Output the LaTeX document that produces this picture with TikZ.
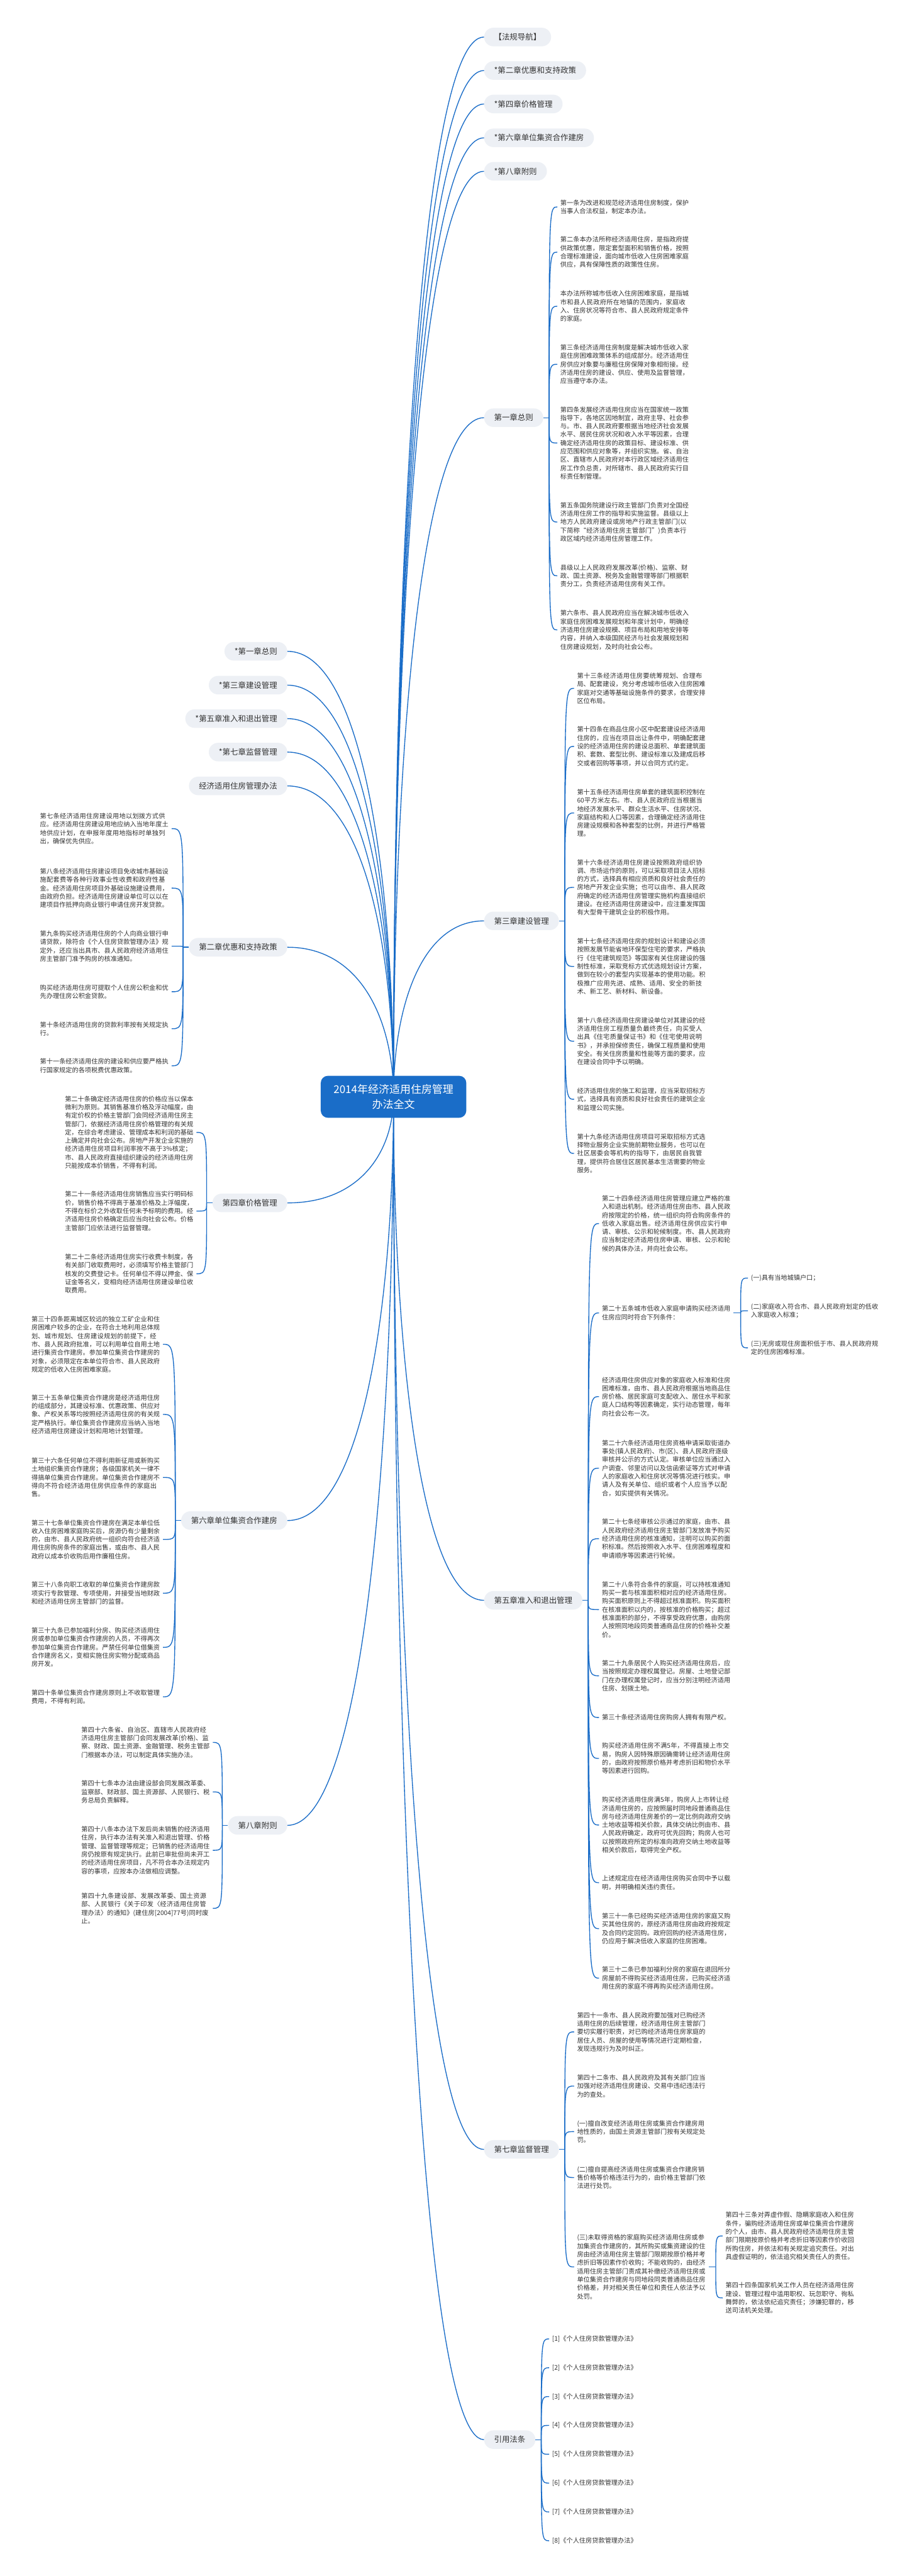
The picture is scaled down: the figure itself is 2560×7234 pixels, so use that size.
\documentclass[tikz,border=0pt]{standalone}
\usepackage{fontspec}
\setmainfont{Noto Sans CJK SC}
\XeTeXlinebreaklocale "zh"
\XeTeXlinebreakskip=0pt plus 1pt
\usetikzlibrary{calc}
\definecolor{cblue}{HTML}{1A6DC8}
\definecolor{pillc}{HTML}{EDF0F5}
\definecolor{txt}{HTML}{333333}
\tikzset{
  conn/.style={draw=cblue, line width=1.2pt},
  pill/.style={fill=pillc, rounded corners=13pt, minimum height=26pt, inner xsep=14pt, inner ysep=0pt, font=\fontsize{11}{13}\selectfont, text=txt},
  para/.style={font=\fontsize{9}{11.75}\selectfont, text width=180.5pt, align=left, inner xsep=4pt, inner ysep=2pt, text=txt, anchor=west},
  reft/.style={font=\fontsize{9}{11}\selectfont, inner xsep=4pt, text=txt, anchor=west},
  hubnode/.style={fill=cblue, text=white, rounded corners=10pt, font=\fontsize{15}{21}\selectfont, inner xsep=18pt, inner ysep=12pt, align=center}
}
\newcommand\mc[2]{\draw[conn] (#1) .. controls ($(#1)!0.5!(#1|-#2)$) and ($(#1|-#2)!0.3!(#2)$) .. (#2);}
\newcommand\bk[2]{\draw[conn] (#1) .. controls (#1|-#2) .. (#2);}
\begin{document}
\begin{tikzpicture}[x=0.5pt,y=-0.5pt]
\fill[white] (0,0) rectangle (2560,7234);
\useasboundingbox (0,0) rectangle (2560,7234);
\coordinate (c0) at (1105,3080);
% ---------- right top labels
\node[pill,anchor=west] (r0) at (1359,104) {【法规导航】};
\node[pill,anchor=west] (r1) at (1359,198) {*第二章优惠和支持政策};
\node[pill,anchor=west] (r2) at (1359,292) {*第四章价格管理};
\node[pill,anchor=west] (r3) at (1359,387) {*第六章单位集资合作建房};
\node[pill,anchor=west] (r4) at (1359,481) {*第八章附则};
\node[pill,anchor=west] (R1) at (1359,1173) {第一章总则};
\node[pill,anchor=west] (R3) at (1359,2586) {第三章建设管理};
\node[pill,anchor=west] (R5) at (1359,4494) {第五章准入和退出管理};
\node[pill,anchor=west] (R7) at (1359,6036) {第七章监督管理};
\node[pill,anchor=west] (RY) at (1359,6851) {引用法条};
% ---------- left labels
\node[pill,anchor=east] (l1) at (807,1829) {*第一章总则};
\node[pill,anchor=east] (l2) at (807,1924) {*第三章建设管理};
\node[pill,anchor=east] (l3) at (807,2018) {*第五章准入和退出管理};
\node[pill,anchor=east] (l4) at (807,2112) {*第七章监督管理};
\node[pill,anchor=east] (l5) at (807,2207) {经济适用住房管理办法};
\node[pill,anchor=east] (L2) at (807,2660) {第二章优惠和支持政策};
\node[pill,anchor=east] (L4) at (807,3378) {第四章价格管理};
\node[pill,anchor=east] (L6) at (807,4270) {第六章单位集资合作建房};
\node[pill,anchor=east] (L8) at (807,5126) {第八章附则};
% ---------- main connectors
\foreach \n in {r0,r1,r2,r3,r4,R1,R3,R5,R7,RY}{\mc{c0}{\n.west}}
\foreach \n in {l1,l2,l3,l4,l5,L2,L4,L6,L8}{\mc{c0}{\n.east}}
% ---------- chapter 1
\node[para] (a1) at (1565,581) {第一条为改进和规范经济适用住房制度，保护当事人合法权益，制定本办法。};
\node[para] (a2) at (1565,708) {第二条本办法所称经济适用住房，是指政府提供政策优惠，限定套型面积和销售价格，按照合理标准建设，面向城市低收入住房困难家庭供应，具有保障性质的政策性住房。};
\node[para] (a3) at (1565,860) {本办法所称城市低收入住房困难家庭，是指城市和县人民政府所在地镇的范围内，家庭收入、住房状况等符合市、县人民政府规定条件的家庭。};
\node[para] (a4) at (1565,1023) {第三条经济适用住房制度是解决城市低收入家庭住房困难政策体系的组成部分。经济适用住房供应对象要与廉租住房保障对象相衔接。经济适用住房的建设、供应、使用及监督管理，应当遵守本办法。};
\node[para] (a5) at (1565,1244) {第四条发展经济适用住房应当在国家统一政策指导下，各地区因地制宜，政府主导、社会参与。市、县人民政府要根据当地经济社会发展水平、居民住房状况和收入水平等因素，合理确定经济适用住房的政策目标、建设标准、供应范围和供应对象等，并组织实施。省、自治区、直辖市人民政府对本行政区域经济适用住房工作负总责，对所辖市、县人民政府实行目标责任制管理。};
\node[para] (a6) at (1565,1466) {第五条国务院建设行政主管部门负责对全国经济适用住房工作的指导和实施监督。县级以上地方人民政府建设或房地产行政主管部门(以下简称“经济适用住房主管部门”)负责本行政区域内经济适用住房管理工作。};
\node[para] (a7) at (1565,1617) {县级以上人民政府发展改革(价格)、监察、财政、国土资源、税务及金融管理等部门根据职责分工，负责经济适用住房有关工作。};
\node[para] (a8) at (1565,1769) {第六条市、县人民政府应当在解决城市低收入家庭住房困难发展规划和年度计划中，明确经济适用住房建设规模、项目布局和用地安排等内容，并纳入本级国民经济与社会发展规划和住房建设规划，及时向社会公布。};
\coordinate (bR1) at ([xshift=8pt]R1.east);
\draw[conn] (R1.east) -- (bR1);
\foreach \n in {a1,a2,a3,a4,a5,a6,a7,a8}{\bk{bR1}{\n.west}}
% ---------- chapter 3
\node[para] (b1) at (1612,1933) {第十三条经济适用住房要统筹规划、合理布局、配套建设，充分考虑城市低收入住房困难家庭对交通等基础设施条件的要求，合理安排区位布局。};
\node[para] (b2) at (1612,2096) {第十四条在商品住房小区中配套建设经济适用住房的，应当在项目出让条件中，明确配套建设的经济适用住房的建设总面积、单套建筑面积、套数、套型比例、建设标准以及建成后移交或者回购等事项，并以合同方式约定。};
\node[para] (b3) at (1612,2283) {第十五条经济适用住房单套的建筑面积控制在60平方米左右。市、县人民政府应当根据当地经济发展水平、群众生活水平、住房状况、家庭结构和人口等因素，合理确定经济适用住房建设规模和各种套型的比例，并进行严格管理。};
\node[para] (b4) at (1612,2492) {第十六条经济适用住房建设按照政府组织协调、市场运作的原则，可以采取项目法人招标的方式，选择具有相应资质和良好社会责任的房地产开发企业实施；也可以由市、县人民政府确定的经济适用住房管理实施机构直接组织建设。在经济适用住房建设中，应注重发挥国有大型骨干建筑企业的积极作用。};
\node[para] (b5) at (1612,2714) {第十七条经济适用住房的规划设计和建设必须按照发展节能省地环保型住宅的要求，严格执行《住宅建筑规范》等国家有关住房建设的强制性标准，采取竞标方式优选规划设计方案，做到在较小的套型内实现基本的使用功能。积极推广应用先进、成熟、适用、安全的新技术、新工艺、新材料、新设备。};
\node[para] (b6) at (1612,2924) {第十八条经济适用住房建设单位对其建设的经济适用住房工程质量负最终责任，向买受人出具《住宅质量保证书》和《住宅使用说明书》，并承担保修责任，确保工程质量和使用安全。有关住房质量和性能等方面的要求，应在建设合同中予以明确。};
\node[para] (b7) at (1612,3087) {经济适用住房的施工和监理，应当采取招标方式，选择具有资质和良好社会责任的建筑企业和监理公司实施。};
\node[para] (b8) at (1612,3239) {第十九条经济适用住房项目可采取招标方式选择物业服务企业实施前期物业服务，也可以在社区居委会等机构的指导下，由居民自我管理，提供符合居住区居民基本生活需要的物业服务。};
\coordinate (bR3) at ([xshift=8pt]R3.east);
\draw[conn] (R3.east) -- (bR3);
\foreach \n in {b1,b2,b3,b4,b5,b6,b7,b8}{\bk{bR3}{\n.west}}
% ---------- chapter 5
\node[para] (c1) at (1682,3436) {第二十四条经济适用住房管理应建立严格的准入和退出机制。经济适用住房由市、县人民政府按限定的价格，统一组织向符合购房条件的低收入家庭出售。经济适用住房供应实行申请、审核、公示和轮候制度。市、县人民政府应当制定经济适用住房申请、审核、公示和轮候的具体办法，并向社会公布。};
\node[para] (c2) at (1682,3687) {第二十五条城市低收入家庭申请购买经济适用住房应同时符合下列条件：};
\node[para] (c3) at (1682,3922) {经济适用住房供应对象的家庭收入标准和住房困难标准，由市、县人民政府根据当地商品住房价格、居民家庭可支配收入、居住水平和家庭人口结构等因素确定，实行动态管理，每年向社会公布一次。};
\node[para] (c4) at (1682,4123) {第二十六条经济适用住房资格申请采取街道办事处(镇人民政府)、市(区)、县人民政府逐级审核并公示的方式认定。审核单位应当通过入户调查、邻里访问以及信函索证等方式对申请人的家庭收入和住房状况等情况进行核实。申请人及有关单位、组织或者个人应当予以配合，如实提供有关情况。};
\node[para] (c5) at (1682,4321) {第二十七条经审核公示通过的家庭，由市、县人民政府经济适用住房主管部门发放准予购买经济适用住房的核准通知，注明可以购买的面积标准。然后按照收入水平、住房困难程度和申请顺序等因素进行轮候。};
\node[para] (c6) at (1682,4520) {第二十八条符合条件的家庭，可以持核准通知购买一套与核准面积相对应的经济适用住房。购买面积原则上不得超过核准面积。购买面积在核准面积以内的，按核准的价格购买；超过核准面积的部分，不得享受政府优惠，由购房人按照同地段同类普通商品住房的价格补交差价。};
\node[para] (c7) at (1682,4706) {第二十九条居民个人购买经济适用住房后，应当按照规定办理权属登记。房屋、土地登记部门在办理权属登记时，应当分别注明经济适用住房、划拨土地。};
\node[para] (c8) at (1682,4823) {第三十条经济适用住房购房人拥有有限产权。};
\node[para] (c9) at (1682,4938) {购买经济适用住房不满5年，不得直接上市交易，购房人因特殊原因确需转让经济适用住房的，由政府按照原价格并考虑折旧和物价水平等因素进行回购。};
\node[para] (c10) at (1682,5125) {购买经济适用住房满5年，购房人上市转让经济适用住房的，应按照届时同地段普通商品住房与经济适用住房差价的一定比例向政府交纳土地收益等相关价款，具体交纳比例由市、县人民政府确定，政府可优先回购；购房人也可以按照政府所定的标准向政府交纳土地收益等相关价款后，取得完全产权。};
\node[para] (c11) at (1682,5287) {上述规定应在经济适用住房购买合同中予以载明，并明确相关违约责任。};
\node[para] (c12) at (1682,5416) {第三十一条已经购买经济适用住房的家庭又购买其他住房的，原经济适用住房由政府按规定及合同约定回购。政府回购的经济适用住房，仍应用于解决低收入家庭的住房困难。};
\node[para] (c13) at (1682,5555) {第三十二条已参加福利分房的家庭在退回所分房屋前不得购买经济适用住房，已购买经济适用住房的家庭不得再购买经济适用住房。};
\coordinate (bR5) at ([xshift=8pt]R5.east);
\draw[conn] (R5.east) -- (bR5);
\foreach \n in {c1,c2,c3,c4,c5,c6,c7,c8,c9,c10,c11,c12,c13}{\bk{bR5}{\n.west}}
\node[para] (c2a) at (2100,3589) {(一)具有当地城镇户口；};
\node[para] (c2b) at (2100,3681) {(二)家庭收入符合市、县人民政府划定的低收入家庭收入标准；};
\node[para] (c2c) at (2100,3785) {(三)无房或现住房面积低于市、县人民政府规定的住房困难标准。};
\coordinate (bc2) at ([xshift=10pt]c2.east);
\draw[conn] (c2.east) -- (bc2);
\foreach \n in {c2a,c2b,c2c}{\bk{bc2}{\n.west}}
% ---------- chapter 7
\node[para] (d1) at (1612,5706) {第四十一条市、县人民政府要加强对已购经济适用住房的后续管理，经济适用住房主管部门要切实履行职责，对已购经济适用住房家庭的居住人员、房屋的使用等情况进行定期检查，发现违规行为及时纠正。};
\node[para] (d2) at (1612,5858) {第四十二条市、县人民政府及其有关部门应当加强对经济适用住房建设、交易中违纪违法行为的查处。};
\node[para] (d3) at (1612,5986) {(一)擅自改变经济适用住房或集资合作建房用地性质的，由国土资源主管部门按有关规定处罚。};
\node[para] (d4) at (1612,6115) {(二)擅自提高经济适用住房或集资合作建房销售价格等价格违法行为的，由价格主管部门依法进行处罚。};
\node[para] (d5) at (1612,6366) {(三)未取得资格的家庭购买经济适用住房或参加集资合作建房的，其所购买或集资建设的住房由经济适用住房主管部门限期按原价格并考虑折旧等因素作价收购；不能收购的，由经济适用住房主管部门责成其补缴经济适用住房或单位集资合作建房与同地段同类普通商品住房价格差，并对相关责任单位和责任人依法予以处罚。};
\coordinate (bR7) at ([xshift=8pt]R7.east);
\draw[conn] (R7.east) -- (bR7);
\foreach \n in {d1,d2,d3,d4,d5}{\bk{bR7}{\n.west}}
\node[para] (d5a) at (2029,6279) {第四十三条对弄虚作假、隐瞒家庭收入和住房条件，骗购经济适用住房或单位集资合作建房的个人，由市、县人民政府经济适用住房主管部门限期按原价格并考虑折旧等因素作价收回所购住房，并依法和有关规定追究责任。对出具虚假证明的，依法追究相关责任人的责任。};
\node[para] (d5b) at (2029,6453) {第四十四条国家机关工作人员在经济适用住房建设、管理过程中滥用职权、玩忽职守、徇私舞弊的，依法依纪追究责任；涉嫌犯罪的，移送司法机关处理。};
\coordinate (bd5) at ([xshift=10pt]d5.east);
\draw[conn] (d5.east) -- (bd5);
\foreach \n in {d5a,d5b}{\bk{bd5}{\n.west}}
% ---------- references
\foreach \k in {1,...,8}{
  \node[reft] (e\k) at (1542,{6568+81*(\k-1)}) {[\k]《个人住房贷款管理办法》};
}
\coordinate (bRY) at ([xshift=8pt]RY.east);
\draw[conn] (RY.east) -- (bRY);
\foreach \k in {1,...,8}{\bk{bRY}{e\k.west}}
% ---------- left chapter 2
\node[para] (f1) at (104,2327) {第七条经济适用住房建设用地以划拨方式供应。经济适用住房建设用地应纳入当地年度土地供应计划，在申报年度用地指标时单独列出，确保优先供应。};
\node[para] (f2) at (104,2494) {第八条经济适用住房建设项目免收城市基础设施配套费等各种行政事业性收费和政府性基金。经济适用住房项目外基础设施建设费用，由政府负担。经济适用住房建设单位可以以在建项目作抵押向商业银行申请住房开发贷款。};
\node[para] (f3) at (104,2657) {第九条购买经济适用住房的个人向商业银行申请贷款，除符合《个人住房贷款管理办法》规定外，还应当出具市、县人民政府经济适用住房主管部门准予购房的核准通知。};
\node[para] (f4) at (104,2785) {购买经济适用住房可提取个人住房公积金和优先办理住房公积金贷款。};
\node[para] (f5) at (104,2889) {第十条经济适用住房的贷款利率按有关规定执行。};
\node[para] (f6) at (104,2993) {第十一条经济适用住房的建设和供应要严格执行国家规定的各项税费优惠政策。};
\coordinate (bL2) at ([xshift=-8pt]L2.west);
\draw[conn] (L2.west) -- (bL2);
\foreach \n in {f1,f2,f3,f4,f5,f6}{\bk{bL2}{\n.east}}
% ---------- left chapter 4
\node[para] (g1) at (174,3180) {第二十条确定经济适用住房的价格应当以保本微利为原则。其销售基准价格及浮动幅度，由有定价权的价格主管部门会同经济适用住房主管部门，依据经济适用住房价格管理的有关规定，在综合考虑建设、管理成本和利润的基础上确定并向社会公布。房地产开发企业实施的经济适用住房项目利润率按不高于3\%核定；市、县人民政府直接组织建设的经济适用住房只能按成本价销售，不得有利润。};
\node[para] (g2) at (174,3401) {第二十一条经济适用住房销售应当实行明码标价，销售价格不得高于基准价格及上浮幅度，不得在标价之外收取任何未予标明的费用。经济适用住房价格确定后应当向社会公布。价格主管部门应依法进行监督管理。};
\node[para] (g3) at (174,3577) {第二十二条经济适用住房实行收费卡制度，各有关部门收取费用时，必须填写价格主管部门核发的交费登记卡。任何单位不得以押金、保证金等名义，变相向经济适用住房建设单位收取费用。};
\coordinate (bL4) at ([xshift=-8pt]L4.west);
\draw[conn] (L4.west) -- (bL4);
\foreach \n in {g1,g2,g3}{\bk{bL4}{\n.east}}
% ---------- left chapter 6
\node[para] (h1) at (80,3775) {第三十四条距离城区较远的独立工矿企业和住房困难户较多的企业，在符合土地利用总体规划、城市规划、住房建设规划的前提下，经市、县人民政府批准，可以利用单位自用土地进行集资合作建房。参加单位集资合作建房的对象，必须限定在本单位符合市、县人民政府规定的低收入住房困难家庭。};
\node[para] (h2) at (80,3972) {第三十五条单位集资合作建房是经济适用住房的组成部分，其建设标准、优惠政策、供应对象、产权关系等均按照经济适用住房的有关规定严格执行。单位集资合作建房应当纳入当地经济适用住房建设计划和用地计划管理。};
\node[para] (h3) at (80,4149) {第三十六条任何单位不得利用新征用或新购买土地组织集资合作建房；各级国家机关一律不得搞单位集资合作建房。单位集资合作建房不得向不符合经济适用住房供应条件的家庭出售。};
\node[para] (h4) at (80,4323) {第三十七条单位集资合作建房在满足本单位低收入住房困难家庭购买后，房源仍有少量剩余的，由市、县人民政府统一组织向符合经济适用住房购房条件的家庭出售，或由市、县人民政府以成本价收购后用作廉租住房。};
\node[para] (h5) at (80,4474) {第三十八条向职工收取的单位集资合作建房款项实行专款管理、专项使用，并接受当地财政和经济适用住房主管部门的监督。};
\node[para] (h6) at (80,4626) {第三十九条已参加福利分房、购买经济适用住房或参加单位集资合作建房的人员，不得再次参加单位集资合作建房。严禁任何单位借集资合作建房名义，变相实施住房实物分配或商品房开发。};
\node[para] (h7) at (80,4765) {第四十条单位集资合作建房原则上不收取管理费用，不得有利润。};
\coordinate (bL6) at ([xshift=-8pt]L6.west);
\draw[conn] (L6.west) -- (bL6);
\foreach \n in {h1,h2,h3,h4,h5,h6,h7}{\bk{bL6}{\n.east}}
% ---------- left chapter 8
\node[para] (i1) at (220,4893) {第四十六条省、自治区、直辖市人民政府经济适用住房主管部门会同发展改革(价格)、监察、财政、国土资源、金融管理、税务主管部门根据本办法，可以制定具体实施办法。};
\node[para] (i2) at (220,5032) {第四十七条本办法由建设部会同发展改革委、监察部、财政部、国土资源部、人民银行、税务总局负责解释。};
\node[para] (i3) at (220,5196) {第四十八条本办法下发后尚未销售的经济适用住房，执行本办法有关准入和退出管理、价格管理、监督管理等规定；已销售的经济适用住房仍按原有规定执行。此前已审批但尚未开工的经济适用住房项目，凡不符合本办法规定内容的事项，应按本办法做相应调整。};
\node[para] (i4) at (220,5359) {第四十九条建设部、发展改革委、国土资源部、人民银行《关于印发〈经济适用住房管理办法〉的通知》(建住房[2004]77号)同时废止。};
\coordinate (bL8) at ([xshift=-8pt]L8.west);
\draw[conn] (L8.west) -- (bL8);
\foreach \n in {i1,i2,i3,i4}{\bk{bL8}{\n.east}}
% ---------- hub
\node[hubnode] (hub) at (c0) {2014年经济适用住房管理\\办法全文};
\end{tikzpicture}
\end{document}
